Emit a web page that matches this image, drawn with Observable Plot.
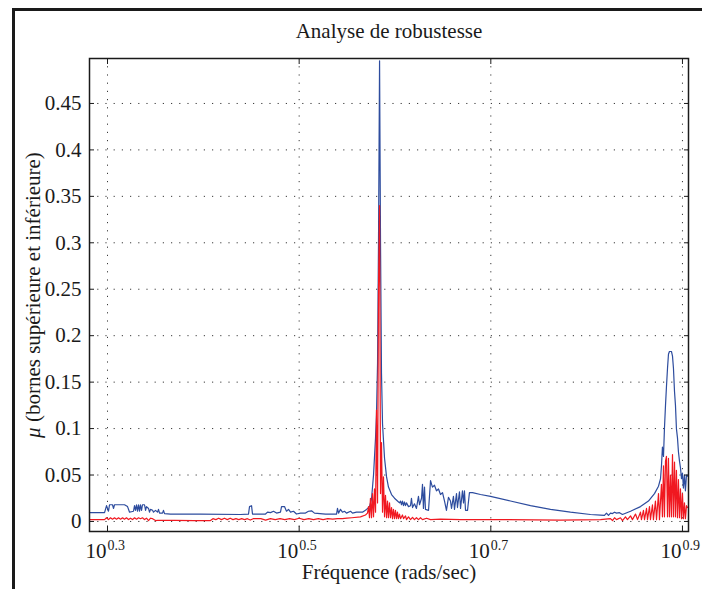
<!DOCTYPE html>
<html><head><meta charset="utf-8">
<script src="https://cdn.jsdelivr.net/npm/d3@7"></script>
<script src="https://cdn.jsdelivr.net/npm/@observablehq/plot@0.6"></script>
<style>
html,body{margin:0;padding:0;background:#fff;}
#wrap{position:relative;width:702px;height:589px;overflow:hidden;background:#fff;}
#chart{position:absolute;left:0;top:0;}
#chart svg, #chart svg text{font-family:"Liberation Serif","DejaVu Serif",serif !important;}
#frame{position:absolute;left:12px;top:8px;width:720px;height:600px;border-left:3px solid #1a1a1a;border-top:3px solid #1a1a1a;pointer-events:none;}
</style></head><body>
<div id="wrap"><div id="chart"></div><div id="frame"></div></div>
<script>
// ---- texts ----
const title = "Analyse de robustesse";
const xLabel = "Fréquence (rads/sec)";
const yLabel = "μ (bornes supérieure et inférieure)";

// ---- ticks ----
const xTickExps = [0.3, 0.5, 0.7, 0.9];
const xTickExpLabels = ["0.3", "0.5", "0.7", "0.9"];
const yTicks = [0, 0.05, 0.1, 0.15, 0.2, 0.25, 0.3, 0.35, 0.4, 0.45];
const yTickLabels = ["0", "0.05", "0.1", "0.15", "0.2", "0.25", "0.3", "0.35", "0.4", "0.45"];
const xDomainExp = [0.2812, 0.9063];
const yDomain = [-0.0108, 0.4984];

// ---- upper bound (blue): log10 frequency, mu ----
const upperExp = [0.2812,0.2969,0.2990,0.3010,0.3021,0.3052,0.3063,0.3073,0.3136,0.3177,0.3209,0.3230,0.3250,0.3271,0.3282,0.3292,0.3303,0.3313,0.3324,0.3334,0.3344,0.3355,0.3365,0.3386,0.3397,0.3407,0.3428,0.3438,0.3449,0.3470,0.3480,0.3501,0.3522,0.3532,0.3543,0.3574,0.3584,0.3595,0.3657,0.3971,0.4388,0.4471,0.4482,0.4503,0.4513,0.4649,0.4670,0.4701,0.4732,0.4764,0.4805,0.4816,0.4847,0.4868,0.4889,0.4910,0.4941,0.4972,0.5014,0.5066,0.5097,0.5129,0.5160,0.5275,0.5390,0.5400,0.5411,0.5431,0.5452,0.5473,0.5494,0.5536,0.5557,0.5598,0.5661,0.5703,0.5734,0.5755,0.5776,0.5797,0.5807,0.5818,0.5828,0.5839,0.5849,0.5859,0.5870,0.5891,0.5912,0.5932,0.5964,0.5995,0.6026,0.6047,0.6058,0.6068,0.6078,0.6089,0.6099,0.6110,0.6120,0.6141,0.6162,0.6172,0.6183,0.6203,0.6224,0.6245,0.6256,0.6277,0.6287,0.6297,0.6308,0.6318,0.6350,0.6371,0.6391,0.6412,0.6433,0.6454,0.6475,0.6496,0.6517,0.6537,0.6558,0.6579,0.6590,0.6610,0.6621,0.6642,0.6652,0.6673,0.6684,0.6704,0.6715,0.6725,0.6736,0.6757,0.6777,0.6809,0.6892,0.6997,0.7205,0.7414,0.7623,0.7831,0.8040,0.8145,0.8186,0.8207,0.8228,0.8249,0.8270,0.8291,0.8312,0.8343,0.8374,0.8458,0.8562,0.8645,0.8708,0.8750,0.8771,0.8781,0.8791,0.8802,0.8812,0.8823,0.8833,0.8844,0.8854,0.8864,0.8885,0.8896,0.8906,0.8917,0.8927,0.8937,0.8948,0.8958,0.8969,0.8979,0.8990,0.9000,0.9010,0.9021,0.9031,0.9042,0.9063];
const upperMu = [0.0095,0.0095,0.017,0.011,0.018,0.018,0.014,0.018,0.018,0.018,0.016,0.010,0.0105,0.011,0.017,0.012,0.018,0.011,0.018,0.011,0.018,0.012,0.018,0.018,0.012,0.016,0.014,0.010,0.013,0.012,0.010,0.012,0.010,0.013,0.009,0.009,0.012,0.0085,0.008,0.0078,0.0075,0.0078,0.016,0.017,0.008,0.008,0.010,0.0095,0.011,0.009,0.010,0.016,0.016,0.011,0.013,0.010,0.011,0.008,0.009,0.009,0.011,0.0115,0.009,0.008,0.008,0.014,0.009,0.013,0.010,0.011,0.009,0.011,0.009,0.010,0.010,0.013,0.016,0.024,0.050,0.090,0.115,0.170,0.300,0.496,0.300,0.160,0.105,0.068,0.048,0.037,0.029,0.025,0.022,0.020,0.022,0.018,0.022,0.017,0.021,0.017,0.020,0.016,0.017,0.025,0.015,0.019,0.014,0.027,0.018,0.025,0.040,0.014,0.037,0.013,0.012,0.044,0.037,0.039,0.033,0.035,0.029,0.031,0.022,0.012,0.026,0.022,0.014,0.027,0.013,0.030,0.015,0.032,0.014,0.033,0.020,0.033,0.012,0.012,0.031,0.031,0.029,0.027,0.022,0.017,0.013,0.010,0.0075,0.0068,0.0065,0.009,0.0065,0.009,0.0085,0.010,0.009,0.0095,0.0075,0.011,0.016,0.022,0.030,0.038,0.046,0.060,0.080,0.070,0.100,0.125,0.145,0.165,0.180,0.183,0.183,0.178,0.165,0.140,0.125,0.100,0.090,0.075,0.065,0.058,0.046,0.052,0.036,0.050,0.033,0.050,0.048];

// ---- lower bound (red): log10 frequency, mu ----
const lowerExp = [0.2812,0.2969,0.2990,0.3010,0.3031,0.3052,0.3073,0.3094,0.3115,0.3136,0.3157,0.3177,0.3198,0.3219,0.3240,0.3261,0.3282,0.3303,0.3324,0.3344,0.3365,0.3386,0.3407,0.3428,0.3449,0.3470,0.3501,0.3522,0.3700,0.3900,0.4075,0.4100,0.4130,0.4160,0.4190,0.4220,0.4250,0.4280,0.4310,0.4340,0.4370,0.4400,0.4430,0.4460,0.4490,0.4520,0.4600,0.4650,0.4700,0.4750,0.4800,0.4850,0.4900,0.4950,0.5000,0.5050,0.5100,0.5150,0.5200,0.5250,0.5300,0.5350,0.5400,0.5450,0.5500,0.5550,0.5640,0.5692,0.5713,0.5724,0.5734,0.5744,0.5755,0.5765,0.5776,0.5786,0.5797,0.5807,0.5818,0.5828,0.5839,0.5849,0.5859,0.5870,0.5880,0.5891,0.5901,0.5912,0.5922,0.5932,0.5943,0.5953,0.5964,0.5974,0.5984,0.5995,0.6005,0.6016,0.6026,0.6036,0.6047,0.6058,0.6078,0.6089,0.6110,0.6120,0.6141,0.6162,0.6183,0.6203,0.6224,0.6245,0.6266,0.6287,0.6329,0.6371,0.6475,0.6684,0.7101,0.7727,0.8145,0.8249,0.8270,0.8291,0.8312,0.8353,0.8374,0.8405,0.8426,0.8458,0.8478,0.8510,0.8531,0.8562,0.8572,0.8593,0.8604,0.8625,0.8635,0.8656,0.8666,0.8687,0.8697,0.8718,0.8729,0.8750,0.8760,0.8781,0.8791,0.8802,0.8812,0.8823,0.8833,0.8844,0.8854,0.8864,0.8875,0.8885,0.8896,0.8906,0.8917,0.8927,0.8937,0.8948,0.8958,0.8969,0.8979,0.8990,0.9000,0.9010,0.9021,0.9031,0.9042,0.9052];
const lowerMu = [0.002,0.002,0.004,0.002,0.004,0.0025,0.004,0.0025,0.004,0.0025,0.004,0.0025,0.004,0.002,0.0035,0.002,0.004,0.0025,0.004,0.003,0.004,0.002,0.0035,0.001,0.0035,0.003,0.001,0.0012,0.0012,0.001,0.001,0.003,0.002,0.0035,0.002,0.0035,0.002,0.0035,0.002,0.003,0.002,0.003,0.002,0.003,0.0015,0.003,0.003,0.0015,0.003,0.002,0.003,0.002,0.003,0.002,0.0035,0.002,0.003,0.002,0.003,0.002,0.003,0.0025,0.003,0.003,0.0035,0.004,0.005,0.007,0.009,0.016,0.004,0.025,0.004,0.030,0.005,0.035,0.010,0.120,0.020,0.250,0.340,0.030,0.085,0.010,0.048,0.005,0.028,0.004,0.022,0.004,0.020,0.004,0.015,0.003,0.013,0.003,0.012,0.003,0.010,0.003,0.008,0.003,0.007,0.003,0.006,0.002,0.005,0.002,0.0045,0.002,0.004,0.002,0.004,0.002,0.0035,0.002,0.0025,0.002,0.002,0.0015,0.002,0.003,0.001,0.004,0.002,0.004,0.001,0.005,0.002,0.006,0.002,0.008,0.002,0.010,0.002,0.012,0.002,0.014,0.002,0.016,0.002,0.018,0.002,0.022,0.002,0.030,0.002,0.040,0.005,0.060,0.005,0.065,0.070,0.005,0.068,0.005,0.050,0.005,0.072,0.005,0.064,0.005,0.055,0.004,0.045,0.004,0.035,0.003,0.030,0.003,0.020,0.003,0.017,0.015];

const upper = upperExp.map((e, i) => ({f: 10 ** e, mu: upperMu[i]}));
const lower = lowerExp.map((e, i) => ({f: 10 ** e, mu: lowerMu[i]}));
const xTicks = xTickExps.map(e => 10 ** e);

const FONT = "Liberation Serif";
const BLUE = "#2d4c9e";
const RED = "#f01820";
const INK = "#1a1a1a";
const GRID = {stroke: "#3a3a3a", strokeOpacity: 1, strokeWidth: 1, strokeDasharray: "1.2,7"};

const chart = Plot.plot({
  width: 702, height: 589,
  marginLeft: 89, marginRight: 14, marginTop: 58, marginBottom: 58,
  style: {fontFamily: FONT, fontSize: "21px", background: "transparent", color: INK},
  x: {type: "log", domain: xDomainExp.map(e => 10 ** e)},
  y: {domain: yDomain},
  marks: [
    Plot.gridX(xTicks, GRID),
    Plot.gridY(yTicks, GRID),
    Plot.line(upper, {x: "f", y: "mu", stroke: BLUE, strokeWidth: 1.2}),
    Plot.line(lower, {x: "f", y: "mu", stroke: RED, strokeWidth: 1.2}),
    Plot.frame({stroke: INK, strokeWidth: 1.5}),
    Plot.axisY(yTicks, {anchor: "left", tickSize: -5, tickPadding: 13, label: null, fontSize: 21, fontFamily: FONT,
      tickFormat: d => yTickLabels[yTicks.indexOf(d)], stroke: INK}),
    Plot.axisY(yTicks, {anchor: "right", tickSize: -5, label: null, tickFormat: () => "", stroke: INK}),
    Plot.axisX(xTicks, {anchor: "bottom", tickSize: -5, label: null, tickFormat: () => "", stroke: INK}),
    Plot.axisX(xTicks, {anchor: "top", tickSize: -5, label: null, tickFormat: () => "", stroke: INK}),
    Plot.text(xTicks, {x: d => d, frameAnchor: "bottom", text: () => "10", textAnchor: "end",
      lineAnchor: "bottom", dx: -1, dy: 26, fontSize: 21, fontFamily: FONT, fill: INK}),
    Plot.text(xTicks, {x: d => d, frameAnchor: "bottom", text: (d, i) => xTickExpLabels[i], textAnchor: "start",
      lineAnchor: "bottom", dx: 0, dy: 18, fontSize: 14, fontFamily: FONT, fill: INK}),
    Plot.text([title], {text: d => d, frameAnchor: "top", lineAnchor: "bottom", dy: -21, fontSize: 21, fontFamily: FONT, fill: INK}),
    Plot.text([xLabel], {text: d => d, frameAnchor: "bottom", lineAnchor: "bottom", dy: 47, fontSize: 21, fontFamily: FONT, fill: INK}),
    Plot.text([yLabel], {text: d => d, frameAnchor: "left", textAnchor: "middle", rotate: -90, dx: -56, fontSize: 21, fontFamily: FONT, fill: INK})
  ]
});
document.getElementById("chart").appendChild(chart);

// italic mu in the y label
d3.select(chart).selectAll("text").each(function () {
  if (this.textContent === yLabel) {
    const t = d3.select(this);
    t.text(null);
    t.append("tspan").attr("font-style", "italic").text("μ");
    t.append("tspan").text(yLabel.slice(1));
  }
});
</script>
</body></html>
